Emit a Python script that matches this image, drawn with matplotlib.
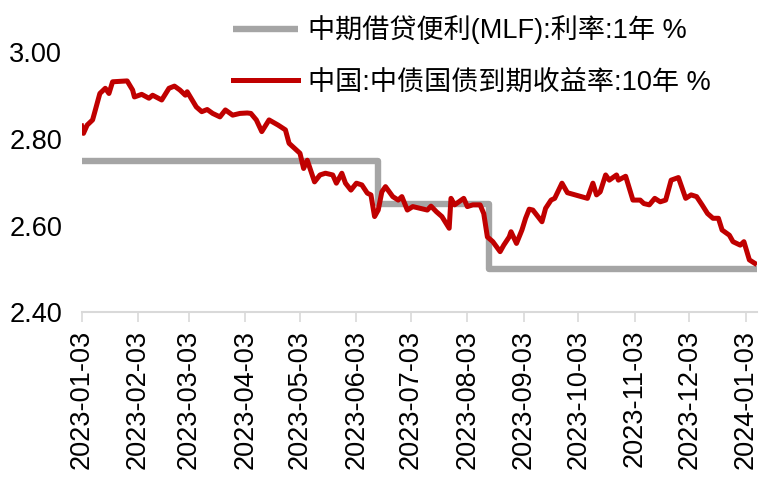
import numpy as np
import pandas as pd
import matplotlib
matplotlib.use("Agg")
import matplotlib.pyplot as plt
import matplotlib.dates as mdates
from matplotlib.ticker import FormatStrFormatter

plt.rcParams['font.family'] = ['Liberation Sans', 'Noto Sans CJK SC']
plt.rcParams['axes.unicode_minus'] = False

# MLF 1年利率 (阶梯)
mlf_dates = ["2023-01-03", "2023-06-15", "2023-08-15", "2024-01-09"]
mlf_vals = [2.75, 2.65, 2.50, 2.50]

# 10年国债收益率
bond_dates = [
    "2023-01-03", "2023-01-04", "2023-01-06", "2023-01-09", "2023-01-10", "2023-01-13",
    "2023-01-16", "2023-01-18", "2023-01-20", "2023-01-28", "2023-01-31", "2023-02-01",
    "2023-02-05", "2023-02-09", "2023-02-11", "2023-02-16", "2023-02-20", "2023-02-23",
    "2023-02-26", "2023-03-01", "2023-03-02", "2023-03-07", "2023-03-10", "2023-03-13",
    "2023-03-16", "2023-03-20", "2023-03-23", "2023-03-27", "2023-03-31", "2023-04-04",
    "2023-04-06", "2023-04-09", "2023-04-12", "2023-04-16", "2023-04-21", "2023-04-25",
    "2023-04-27", "2023-05-03", "2023-05-05", "2023-05-07", "2023-05-11", "2023-05-14",
    "2023-05-17", "2023-05-21", "2023-05-23", "2023-05-26", "2023-05-28", "2023-05-31",
    "2023-06-03", "2023-06-06", "2023-06-09", "2023-06-11", "2023-06-13", "2023-06-15",
    "2023-06-17", "2023-06-19", "2023-06-23", "2023-06-26", "2023-06-28", "2023-07-01",
    "2023-07-04", "2023-07-08", "2023-07-12", "2023-07-14", "2023-07-17", "2023-07-20",
    "2023-07-24", "2023-07-25", "2023-07-27", "2023-08-01", "2023-08-03", "2023-08-06",
    "2023-08-10", "2023-08-12", "2023-08-14", "2023-08-17", "2023-08-21", "2023-08-23",
    "2023-08-26", "2023-08-27", "2023-08-30", "2023-09-02", "2023-09-04", "2023-09-06",
    "2023-09-08", "2023-09-13", "2023-09-15", "2023-09-18", "2023-09-20", "2023-09-24",
    "2023-09-27", "2023-10-08", "2023-10-11", "2023-10-13", "2023-10-15", "2023-10-18",
    "2023-10-20", "2023-10-24", "2023-10-25", "2023-10-29", "2023-11-02", "2023-11-06",
    "2023-11-08", "2023-11-11", "2023-11-14", "2023-11-17", "2023-11-20", "2023-11-23",
    "2023-11-27", "2023-12-01", "2023-12-04", "2023-12-07", "2023-12-10", "2023-12-13",
    "2023-12-16", "2023-12-19", "2023-12-21", "2023-12-25", "2023-12-27", "2023-12-31",
    "2024-01-02", "2024-01-05", "2024-01-08",
]
bond_vals = [
    2.830, 2.813, 2.832, 2.844, 2.859, 2.905,
    2.917, 2.905, 2.932, 2.934, 2.913, 2.897,
    2.903, 2.894, 2.901, 2.890, 2.917, 2.922,
    2.913, 2.901, 2.909, 2.874, 2.863, 2.868,
    2.859, 2.851, 2.867, 2.855, 2.859, 2.860,
    2.859, 2.844, 2.817, 2.844, 2.832, 2.821,
    2.790, 2.767, 2.732, 2.751, 2.701, 2.717,
    2.721, 2.717, 2.698, 2.721, 2.698, 2.682,
    2.698, 2.694, 2.675, 2.671, 2.621, 2.636,
    2.678, 2.690, 2.667, 2.659, 2.667, 2.636,
    2.644, 2.640, 2.636, 2.645, 2.632, 2.621,
    2.594, 2.663, 2.648, 2.663, 2.644, 2.648,
    2.648, 2.628, 2.574, 2.563, 2.540, 2.555,
    2.574, 2.586, 2.559, 2.590, 2.617, 2.638,
    2.636, 2.609, 2.640, 2.659, 2.663, 2.698,
    2.676, 2.663, 2.698, 2.671, 2.678, 2.717,
    2.705, 2.717, 2.705, 2.714, 2.659, 2.659,
    2.651, 2.648, 2.663, 2.655, 2.659, 2.705,
    2.711, 2.663, 2.671, 2.667, 2.648, 2.628,
    2.617, 2.617, 2.590, 2.578, 2.563, 2.555,
    2.563, 2.521, 2.513,
]

tick_dates = ["2023-01-03", "2023-02-03", "2023-03-03", "2023-04-03", "2023-05-03",
              "2023-06-03", "2023-07-03", "2023-08-03", "2023-09-03", "2023-10-03",
              "2023-11-03", "2023-12-03", "2024-01-03"]
y_ticks = [2.40, 2.60, 2.80, 3.00]

labels = ["中期借贷便利(MLF):利率:1年 %", "中国:中债国债到期收益率:10年 %"]

fig = plt.figure(figsize=(7.77, 4.88), dpi=100)
ax = fig.add_axes([0.1051, 0.36, 0.8687, 0.5328])

l1, = ax.plot(pd.to_datetime(mlf_dates), mlf_vals, color='#A5A5A5', lw=4.6,
              drawstyle='steps-post', solid_capstyle='butt')
l2, = ax.plot(pd.to_datetime(bond_dates), bond_vals, color='#C00000', lw=3.6,
              solid_joinstyle='round')

ax.set_xlim(pd.Timestamp("2023-01-03"), pd.Timestamp("2024-01-09"))
ax.set_ylim(2.40, 3.00)
ax.set_yticks(y_ticks)
ax.yaxis.set_major_formatter(FormatStrFormatter('%.2f'))
ax.set_xticks(pd.to_datetime(tick_dates))
ax.xaxis.set_major_formatter(mdates.DateFormatter('%Y-%m-%d'))

for s in ['top', 'right', 'left']:
    ax.spines[s].set_visible(False)
ax.spines['bottom'].set_color('#D9D9D9')
ax.spines['bottom'].set_linewidth(1.5)

ax.tick_params(axis='x', labelsize=19.5, rotation=90, length=7.5, width=1.2,
               color='#D9D9D9', pad=5)
ax.tick_params(axis='y', labelsize=19.5, length=0, pad=14)

fig.legend([l1, l2], labels, loc='upper left', bbox_to_anchor=(0.2999, 0.969),
           frameon=False, fontsize=19.5, handlelength=2.4, handletextpad=0.37,
           labelspacing=0.93, borderpad=0, borderaxespad=0)

fig.savefig("out.png", dpi=100)
